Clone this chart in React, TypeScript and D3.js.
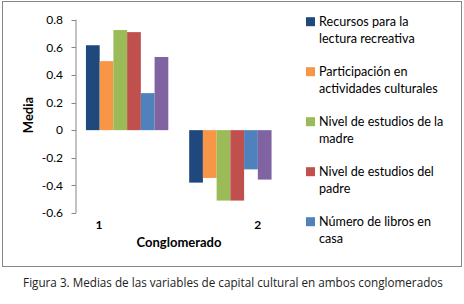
import React from "react";
import * as d3 from "d3";

const categories = ["1", "2"];
const seriesNames = [
  "Recursos para la lectura recreativa",
  "Participación en actividades culturales",
  "Nivel de estudios de la madre",
  "Nivel de estudios del padre",
  "Número de libros en casa",
  "Otra variable",
];
const legendLines = [
  ["Recursos para la", "lectura recreativa"],
  ["Participación en", "actividades culturales"],
  ["Nivel de estudios de la", "madre"],
  ["Nivel de estudios del", "padre"],
  ["Número de libros en", "casa"],
];
const cluster1 = [0.615, 0.5, 0.725, 0.71, 0.268, 0.53];
const cluster2 = [-0.38, -0.346, -0.51, -0.51, -0.284, -0.358];
const colors = ["#1F497D", "#F79646", "#9BBB59", "#C0504D", "#4F81BD", "#8064A2"];
const yTicks = [-0.6, -0.4, -0.2, 0, 0.2, 0.4, 0.6, 0.8];
const caption = "Figura 3. Medias de las variables de capital cultural en ambos conglomerados";

const values = [cluster1, cluster2];
const FONT = "Lato, 'Open Sans', sans-serif";

export default function App() {
  const y = d3.scaleLinear().domain([-0.6, 0.8]).range([213, 19.7]);
  const x = d3.scaleBand<string>().domain(categories).range([75.5, 282]).paddingInner(0).paddingOuter(0);
  const xs = d3
    .scaleBand<string>()
    .domain(seriesNames)
    .range([0, x.bandwidth()])
    .paddingInner(0)
    .paddingOuter(0.76);
  const xLabel = d3.scalePoint<string>().domain(categories).range([99, 257.7]);
  const fmt = (v: number) => (Math.abs(v) < 1e-9 ? "0" : v.toFixed(1));

  return (
    <div style={{ position: "fixed", left: 0, top: 0 }}>
      <svg width={464} height={304} style={{ display: "block", background: "#fff" }}>
        <rect x={0} y={0} width={464} height={304} fill="#fff" />
        <rect x={2.5} y={1.5} width={459} height={265} fill="#fff" stroke="#868686" strokeWidth={1} />
        {/* bars */}
        {categories.map((c, ci) =>
          values[ci].map((v, si) => (
            <rect
              key={c + si}
              x={(x(c) as number) + (xs(seriesNames[si]) as number)}
              y={Math.min(y(v), y(0))}
              width={xs.bandwidth()}
              height={Math.abs(y(v) - y(0))}
              fill={colors[si]}
            />
          ))
        )}
        {/* y axis */}
        <line x1={76} x2={76} y1={y(0.8)} y2={y(-0.6)} stroke="#868686" strokeWidth={1} />
        {yTicks.map((t) => (
          <g key={t}>
            <line x1={71.5} x2={76} y1={Math.round(y(t)) + 0.5} y2={Math.round(y(t)) + 0.5} stroke="#868686" />
            <text x={63} y={y(t)} dy="0.35em" textAnchor="end" fontFamily={FONT} fontSize={12} fill="#000">
              {fmt(t)}
            </text>
          </g>
        ))}
        <text
          transform={`translate(33,115) rotate(-90)`}
          textAnchor="middle"
          fontFamily={FONT}
          fontSize={13}
          fontWeight="bold"
          fill="#000"
        >
          Media
        </text>
        {/* x labels */}
        {categories.map((c) => (
          <text key={c} x={xLabel(c)} y={225} dy="0.35em" textAnchor="middle" fontFamily={FONT} fontSize={12} fontWeight="bold">
            {c}
          </text>
        ))}
        <text x={179} y={242} dy="0.35em" textAnchor="middle" fontFamily={FONT} fontSize={13} fontWeight="bold">
          Conglomerado
        </text>
        {/* legend */}
        {legendLines.map((lines, i) => (
          <g key={i} transform={`translate(306,${21.7 + i * 50})`}>
            <rect x={0} y={-4.5} width={9} height={9} fill={colors[i]} />
            {lines.map((l, li) => (
              <text key={li} x={13} y={li * 16.6} dy="0.35em" fontFamily={FONT} fontSize={12.6} fill="#000">
                {l}
              </text>
            ))}
          </g>
        ))}
        <text x={233} y={283} dy="0.35em" textAnchor="middle" fontFamily="'Open Sans', sans-serif" fontSize={11.7} fill="#222">
          {caption}
        </text>
      </svg>
    </div>
  );
}
